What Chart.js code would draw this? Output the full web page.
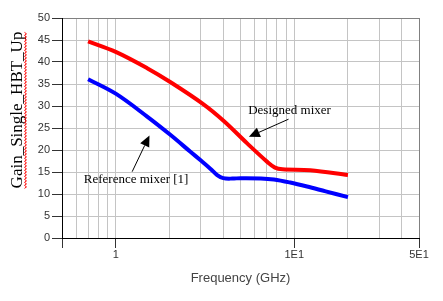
<!DOCTYPE html>
<html>
<head>
<meta charset="utf-8">
<script src="https://cdn.jsdelivr.net/npm/chart.js@4.4.1/dist/chart.umd.min.js"></script>
<style>
  html, body { margin: 0; padding: 0; background: #fff; }
  #wrap { width: 443px; height: 301px; }
</style>
</head>
<body>
<div id="wrap"><canvas id="gain-chart"></canvas></div>
<script>
// values (frequency in GHz, gain in dB)
const frequencyDesigned = [0.7, 1.0, 1.5, 2.03, 3.05, 4.03, 5.45, 7.06, 7.8, 8.6, 12.3, 20];
const gainDesigned = [44.7, 42.3, 38.6, 35.4, 30.6, 26.6, 21.5, 17.3, 16.0, 15.6, 15.4, 14.3];
const frequencyReference = [0.7, 1.0, 1.5, 2.03, 2.62, 3.0, 3.4, 3.7, 4.0, 4.5, 5, 6.5, 7.7, 9.5, 11.8, 15, 20];
const gainReference = [36.1, 32.8, 27.6, 23.4, 19.6, 17.6, 15.7, 14.3, 13.6, 13.5, 13.6, 13.55, 13.3, 12.6, 11.7, 10.6, 9.3];

const xGridValues = [0.5, 0.6, 0.7, 0.8, 0.9, 1, 2, 3, 4, 5, 6, 7, 8, 9, 10, 20, 30, 40, 50];
const xTickValues = [1, 10, 50];
const xTickLabels = ["1", "1E1", "5E1"];
const yTitleText = "Gain_Single_HBT_Up";
const xTitleText = "Frequency (GHz)";

// callouts, anchored in data coordinates
const callouts = [
  { text: "Designed mixer", textAt: [5.52, 28.9], from: [9.29, 27.0], to: [5.57, 23.0] },
  { text: "Reference mixer [1]", textAt: [0.662, 13.2], from: [1.236, 15.07], to: [1.545, 23.3] },
];

const SANS = "Arial, 'Liberation Sans', sans-serif";
const SERIF = "'Times New Roman', 'Liberation Serif', serif";

function toPoints(xs, ys) {
  return xs.map((x, i) => ({ x: x, y: ys[i] }));
}

function isLabeled(value) {
  return xTickValues.some((v) => Math.abs(v - value) < 1e-9);
}

const calloutPlugin = {
  id: "callouts",
  afterDatasetsDraw(chart) {
    const ctx = chart.ctx;
    const xs = chart.scales.x;
    const ys = chart.scales.y;
    ctx.save();
    callouts.forEach((c) => {
      const tx = xs.getPixelForValue(c.textAt[0]);
      const ty = ys.getPixelForValue(c.textAt[1]);
      ctx.font = "13px " + SERIF;
      ctx.fillStyle = "#000";
      ctx.textAlign = "left";
      ctx.textBaseline = "middle";
      ctx.fillText(c.text, tx, ty);

      const x1 = xs.getPixelForValue(c.from[0]);
      const y1 = ys.getPixelForValue(c.from[1]);
      const x2 = xs.getPixelForValue(c.to[0]);
      const y2 = ys.getPixelForValue(c.to[1]);
      const ang = Math.atan2(y2 - y1, x2 - x1);
      const headLen = 11;
      const headHalf = 5;
      const bx = x2 - headLen * Math.cos(ang);
      const by = y2 - headLen * Math.sin(ang);
      ctx.strokeStyle = "#000";
      ctx.lineWidth = 1;
      ctx.beginPath();
      ctx.moveTo(x1, y1);
      ctx.lineTo(bx, by);
      ctx.stroke();
      ctx.beginPath();
      ctx.moveTo(x2, y2);
      ctx.lineTo(bx + headHalf * Math.sin(ang), by - headHalf * Math.cos(ang));
      ctx.lineTo(bx - headHalf * Math.sin(ang), by + headHalf * Math.cos(ang));
      ctx.closePath();
      ctx.fill();
    });
    ctx.restore();
  },
  afterDraw(chart) {
    // rotated y title with the red spell-check squiggle under it
    const ctx = chart.ctx;
    ctx.save();
    ctx.translate(22, 110);
    ctx.rotate(-Math.PI / 2);
    ctx.font = "17px " + SERIF;
    ctx.fillStyle = "#000";
    ctx.textAlign = "center";
    ctx.textBaseline = "alphabetic";
    ctx.fillText(yTitleText, 0, 0);
    const w = ctx.measureText(yTitleText).width;
    ctx.strokeStyle = "#ff0000";
    ctx.lineWidth = 1;
    ctx.beginPath();
    let up = true;
    for (let x = -w / 2; x <= w / 2; x += 1.5) {
      const y = 3.5 + (up ? -1 : 1);
      if (x === -w / 2) ctx.moveTo(x, y);
      else ctx.lineTo(x, y);
      up = !up;
    }
    ctx.stroke();
    ctx.restore();
  },
};

const ctx = document.getElementById("gain-chart").getContext("2d");
new Chart(ctx, {
  type: "line",
  data: {
    datasets: [
      {
        label: "Designed mixer",
        data: toPoints(frequencyDesigned, gainDesigned),
        borderColor: "#ff0000",
        backgroundColor: "#ff0000",
        borderWidth: 4,
        pointRadius: 0,
        tension: 0.35,
        fill: false,
      },
      {
        label: "Reference mixer [1]",
        data: toPoints(frequencyReference, gainReference),
        borderColor: "#0000ff",
        backgroundColor: "#0000ff",
        borderWidth: 4,
        pointRadius: 0,
        tension: 0.35,
        fill: false,
      },
    ],
  },
  options: {
    responsive: true,
    maintainAspectRatio: false,
    animation: false,
    layout: { padding: { left: 0, top: 18, right: 24, bottom: 0 } },
    plugins: {
      legend: { display: false },
      tooltip: { enabled: false },
    },
    scales: {
      x: {
        type: "logarithmic",
        min: 0.5,
        max: 50,
        afterBuildTicks: (scale) => {
          scale.ticks = xGridValues.map((v) => ({ value: v }));
        },
        afterFit: (scale) => {
          scale.height = 63;
        },
        border: { color: "#000", width: 1 },
        grid: {
          color: (c) => (c.tick && c.tick.value === 50 ? "#808080" : "#c4c4c4"),
          tickLength: 10,
          tickColor: (c) => (c.tick && (isLabeled(c.tick.value) || c.tick.value === 0.5) ? "#333" : "rgba(0,0,0,0)"),
        },
        ticks: {
          autoSkip: false,
          maxRotation: 0,
          padding: 0,
          color: "#333",
          font: { family: SANS, size: 11 },
          callback: (value) => {
            const i = xTickValues.findIndex((v) => Math.abs(v - value) < 1e-9);
            return i >= 0 ? xTickLabels[i] : "";
          },
        },
        title: {
          display: true,
          text: xTitleText,
          color: "#444",
          font: { family: SANS, size: 13 },
          padding: { top: 0, bottom: 15 },
        },
      },
      y: {
        min: 0,
        max: 50,
        afterFit: (scale) => {
          scale.width = 62;
        },
        border: { color: "#000", width: 1 },
        grid: {
          color: (c) => (c.tick && c.tick.value === 50 ? "#808080" : "#c4c4c4"),
          tickLength: 10,
          tickColor: "#333",
        },
        ticks: {
          stepSize: 5,
          padding: 2,
          color: "#333",
          font: { family: SANS, size: 11 },
        },
      },
    },
  },
  plugins: [calloutPlugin],
});
</script>
</body>
</html>
